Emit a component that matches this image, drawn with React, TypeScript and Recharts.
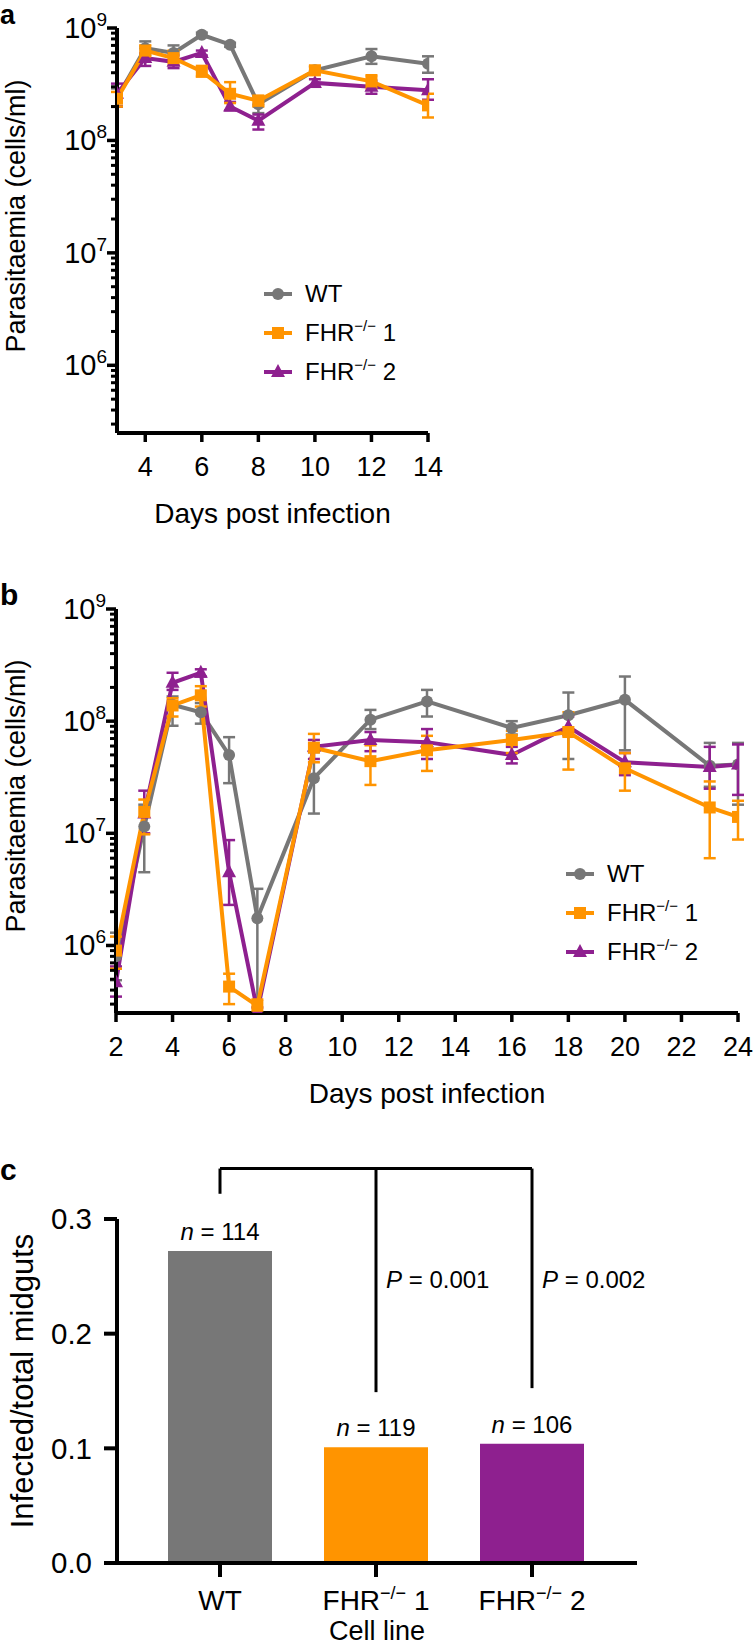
import React from 'react';
import {
  LineChart, Line, XAxis, YAxis, ErrorBar, Legend,
  BarChart, Bar, Cell, LabelList, ReferenceLine, ReferenceDot,
} from 'recharts';

const GRAY = '#777777';
const ORANGE = '#FF9400';
const PURPLE = '#8E208F';
const FONT = '"Liberation Sans", Arial, Helvetica, sans-serif';

// ---- panel a: parasitaemia, days 3-14
const daysA = [3, 4, 5, 6, 7, 8, 10, 12, 14];
const wtA = [2.4e8, 6.6e8, 6.0e8, 8.7e8, 7.1e8, 2.1e8, 4.2e8, 5.6e8, 4.8e8];
const wtALow = [2.0e8, 5.8e8, 5.2e8, 8.3e8, 6.8e8, 1.75e8, 3.9e8, 4.8e8, 4.0e8];
const wtAHigh = [2.9e8, 7.6e8, 7.0e8, 9.1e8, 7.4e8, 2.4e8, 4.5e8, 6.5e8, 5.6e8];
const fhr1A = [2.35e8, 6.3e8, 5.4e8, 4.1e8, 2.6e8, 2.25e8, 4.2e8, 3.35e8, 2.05e8];
const fhr1ALow = [2.0e8, 5.6e8, 4.7e8, 3.7e8, 2.15e8, 2.0e8, 3.9e8, 2.9e8, 1.6e8];
const fhr1AHigh = [2.7e8, 7.0e8, 6.3e8, 4.6e8, 3.3e8, 2.5e8, 4.6e8, 3.8e8, 2.6e8];
const fhr2A = [2.6e8, 5.4e8, 5.0e8, 6.0e8, 2.0e8, 1.5e8, 3.25e8, 3.0e8, 2.8e8];
const fhr2ALow = [2.0e8, 4.6e8, 4.4e8, 5.7e8, 1.85e8, 1.25e8, 3.0e8, 2.6e8, 2.3e8];
const fhr2AHigh = [3.2e8, 6.0e8, 5.7e8, 6.3e8, 2.2e8, 1.7e8, 3.5e8, 3.4e8, 3.5e8];
const dayTicksA = [4, 6, 8, 10, 12, 14];

// ---- panel b: parasitaemia, days 2-24
const daysB = [2, 3, 4, 5, 6, 7, 9, 11, 13, 16, 18, 20, 23, 24];
const wtB = [8e5, 1.15e7, 1.4e8, 1.2e8, 5.0e7, 1.75e6, 3.1e7, 1.03e8, 1.5e8, 8.7e7, 1.13e8, 1.55e8, 4.0e7, 4.1e7];
const wtBLow = [4.9e5, 4.5e6, 9.1e7, 9.5e7, 2.8e7, 2.5e5, 1.5e7, 8.5e7, 1.1e8, 7.6e7, 4.6e7, 5.5e7, 2.6e7, 1.8e7];
const wtBHigh = [1.3e6, 1.8e7, 1.66e8, 1.45e8, 7.2e7, 3.2e6, 5.3e7, 1.26e8, 1.9e8, 1.0e8, 1.8e8, 2.5e8, 6.4e7, 6.4e7];
const fhr1B = [9.0e5, 1.55e7, 1.38e8, 1.7e8, 4.3e5, 2.9e5, 5.8e7, 4.4e7, 5.5e7, 6.8e7, 8.0e7, 3.8e7, 1.7e7, 1.4e7];
const fhr1BLow = [6.2e5, 9.8e6, 1.1e8, 1.35e8, 3.0e5, 2.5e5, 4.3e7, 2.7e7, 3.6e7, 5.2e7, 3.7e7, 2.4e7, 6.0e6, 8.8e6];
const fhr1BHigh = [1.2e6, 2.0e7, 1.6e8, 2.05e8, 5.6e5, 3.3e5, 7.7e7, 6.1e7, 7.4e7, 8.2e7, 1.2e8, 5.2e7, 2.9e7, 1.95e7];
const fhr2B = [4.7e5, 1.5e7, 2.2e8, 2.7e8, 4.5e6, 2.6e5, 5.9e7, 6.8e7, 6.5e7, 5.0e7, 8.9e7, 4.3e7, 3.9e7, 4.1e7];
const fhr2BLow = [3.5e5, 1.0e7, 1.9e8, 2.5e8, 2.3e6, 2.5e5, 4.6e7, 5.4e7, 4.6e7, 4.2e7, 7.5e7, 3.3e7, 2.5e7, 2.2e7];
const fhr2BHigh = [6.5e5, 2.4e7, 2.7e8, 2.9e8, 8.7e6, 2.8e5, 6.8e7, 8.0e7, 8.5e7, 5.9e7, 1.1e8, 5.2e7, 5.9e7, 6.2e7];
const dayTicksB = [2, 4, 6, 8, 10, 12, 14, 16, 18, 20, 22, 24];

// log axis: 2.5e5 .. 1e9 with minor ticks
const logDomain = [2.5e5, 1e9];
const logTicks = [5, 6, 7, 8]
  .flatMap((e) => [1, 2, 3, 4, 5, 6, 7, 8, 9].map((m) => m * 10 ** e))
  .filter((v) => v >= logDomain[0])
  .concat([1e9]);

// ---- panel c: infected midguts
const cellLines = ['WT', 'FHR−/− 1', 'FHR−/− 2'];
const infectedRate = [0.272, 0.101, 0.104];
const nMidguts = [114, 119, 106];
const barColors = [GRAY, ORANGE, PURPLE];
const pValues = ['0.001', '0.002'];
const bracketTop = 0.344;
const bracketDrops = [0.322, 0.149, 0.1525];
const pLabelY = 0.247;

const legendItems = [
  { label: 'WT', shape: 'circle', color: GRAY },
  { label: 'FHR−/− 1', shape: 'square', color: ORANGE },
  { label: 'FHR−/− 2', shape: 'triangle', color: PURPLE },
];

type Series = { key: string; v: number[]; lo: number[]; hi: number[] };

function buildRows(days: number[], sets: Series[]) {
  return days.map((day, i) => {
    const row: Record<string, any> = { day };
    sets.forEach((s) => {
      row[s.key] = s.v[i];
      row[s.key + 'Err'] = [s.v[i] - s.lo[i], s.hi[i] - s.v[i]];
    });
    return row;
  });
}

const rowsA = buildRows(daysA, [
  { key: 'wt', v: wtA, lo: wtALow, hi: wtAHigh },
  { key: 'fhr1', v: fhr1A, lo: fhr1ALow, hi: fhr1AHigh },
  { key: 'fhr2', v: fhr2A, lo: fhr2ALow, hi: fhr2AHigh },
]);
const rowsB = buildRows(daysB, [
  { key: 'wt', v: wtB, lo: wtBLow, hi: wtBHigh },
  { key: 'fhr1', v: fhr1B, lo: fhr1BLow, hi: fhr1BHigh },
  { key: 'fhr2', v: fhr2B, lo: fhr2BLow, hi: fhr2BHigh },
]);
const rowsC = cellLines.map((line, i) => ({ line, rate: infectedRate[i], n: nMidguts[i] }));

function marker(shape: string, cx: number, cy: number, color: string, key?: any) {
  if (shape === 'circle') return <circle key={key} cx={cx} cy={cy} r={6} fill={color} />;
  if (shape === 'square') return <rect key={key} x={cx - 6} y={cy - 6} width={12} height={12} fill={color} />;
  return <path key={key} d={`M${cx},${cy - 8} L${cx + 7},${cy + 5} L${cx - 7},${cy + 5} Z`} fill={color} />;
}

const dotFor = (shape: string, color: string) => (p: any) => {
  if (p.cx == null || p.cy == null) return <g key={p.index} />;
  return marker(shape, p.cx, p.cy, color, p.index);
};

const LogTick = (props: any) => {
  const { x, y, payload } = props;
  const v = payload.value;
  const exp = Math.round(Math.log10(v));
  const major = Math.abs(v / 10 ** exp - 1) < 1e-9;
  return (
    <g>
      <line x1={x} x2={x - (major ? 10 : 6)} y1={y} y2={y} stroke="#000" strokeWidth={major ? 3.5 : 3} />
      {major && (
        <text x={x - 10} y={y + 10} textAnchor="end" fontSize={29} fontFamily={FONT} fill="#000">
          10<tspan dy={-12} fontSize={19}>{exp}</tspan>
        </text>
      )}
    </g>
  );
};

// text with a superscript "−/−"
function supParts(text: string) {
  const parts = text.split('−/−');
  return parts.length < 2 ? null : parts;
}

const CellTick = (props: any) => {
  const { x, y, payload } = props;
  const parts = supParts(payload.value);
  return (
    <text x={x} y={y} dy="0.71em" textAnchor="middle" fontSize={28} fontFamily={FONT} fill="#000">
      {parts ? (
        <>
          {parts[0]}
          <tspan dy={-11} fontSize={18}>−/−</tspan>
          <tspan dy={11}>{parts[1]}</tspan>
        </>
      ) : payload.value}
    </text>
  );
};

const SeriesLegend = () => (
  <div style={{ fontFamily: FONT, fontSize: 24, color: '#000' }}>
    {legendItems.map((it) => {
      const parts = supParts(it.label);
      return (
        <div key={it.label} style={{ display: 'flex', alignItems: 'center', height: 39 }}>
          <svg width={30} height={20}>
            <line x1={1} x2={29} y1={10} y2={10} stroke={it.color} strokeWidth={4} />
            {marker(it.shape, 15, 10, it.color)}
          </svg>
          <span style={{ marginLeft: 12, whiteSpace: 'nowrap' }}>
            {parts ? (
              <>
                {parts[0]}
                <span style={{ fontSize: 15, position: 'relative', top: -10 }}>−/−</span>
                {parts[1]}
              </>
            ) : it.label}
          </span>
        </div>
      );
    })}
  </div>
);

const NLabel = (props: any) => {
  const { x, y, width, value } = props;
  return (
    <text x={x + width / 2} y={y - 11} textAnchor="middle" fontSize={24} fontFamily={FONT} fill="#000">
      <tspan fontStyle="italic">n</tspan> = {value}
    </text>
  );
};

const pLabel = (value: string) => (props: any) => {
  const vb = props.viewBox;
  return (
    <text x={vb.x + 11} y={vb.y + 9} fontSize={24} fontFamily={FONT} fill="#000">
      <tspan fontStyle="italic">P</tspan> = {value}
    </text>
  );
};

// rotated axis title, centred at (cx, cy) in chart coordinates
const yTitle = (text: string, size: number, cx: number, cy: number) => () => (
  <text
    x={cx}
    y={cy}
    transform={`rotate(-90, ${cx}, ${cy})`}
    textAnchor="middle"
    dominantBaseline="central"
    fontSize={size}
    fontFamily={FONT}
    fill="#000"
  >
    {text}
  </text>
);

const axisLine = { stroke: '#000', strokeWidth: 4 };
const tickLine = { stroke: '#000', strokeWidth: 3.5 };
const tickText = { fill: '#000', fontSize: 27, fontFamily: FONT };
const titleStyle = { fill: '#000', fontSize: 28, fontFamily: FONT };

function parasiteSeries() {
  const defs = [
    { key: 'wt', color: GRAY, shape: 'circle' },
    { key: 'fhr2', color: PURPLE, shape: 'triangle' },
    { key: 'fhr1', color: ORANGE, shape: 'square' },
  ];
  return defs.map((d) => (
    <Line
      key={d.key}
      type="linear"
      dataKey={d.key}
      stroke={d.color}
      strokeWidth={4}
      dot={dotFor(d.shape, d.color)}
      activeDot={false}
      isAnimationActive={false}
    >
      <ErrorBar dataKey={d.key + 'Err'} direction="y" width={6} strokeWidth={2.5} stroke={d.color} isAnimationActive={false} />
    </Line>
  ));
}

function yLogAxis(width: number, titleCy: number) {
  return (
    <YAxis
      type="number"
      scale="log"
      domain={logDomain}
      allowDataOverflow
      ticks={logTicks}
      interval={0}
      width={width}
      tickSize={0}
      tickMargin={0}
      tickLine={false}
      axisLine={axisLine}
      tick={<LogTick />}
      label={{ content: yTitle('Parasitaemia (cells/ml)', 27, 16, titleCy) }}
    />
  );
}

export default function App() {
  return (
    <div style={{ position: 'absolute', left: 0, top: 0, width: 754, height: 1645, background: '#fff' }}>
      {/* panel a */}
      <div style={{ position: 'absolute', left: 0, top: 0 }}>
        <LineChart width={754} height={545} data={rowsA} margin={{ top: 28, right: 326, bottom: 52, left: 0 }}>
          <XAxis
            dataKey="day"
            type="number"
            domain={[3, 14]}
            allowDataOverflow
            ticks={dayTicksA}
            interval={0}
            height={60}
            tickSize={9}
            tickMargin={15}
            axisLine={axisLine}
            tickLine={tickLine}
            tick={tickText}
            label={{ value: 'Days post infection', position: 'bottom', offset: 10, style: titleStyle }}
          />
          {yLogAxis(117, 216)}
          {parasiteSeries()}
          <Legend
            layout="vertical"
            align="center"
            verticalAlign="middle"
            content={<SeriesLegend />}
            wrapperStyle={{ left: 263, top: 274, width: 200, height: 120 }}
          />
        </LineChart>
      </div>

      {/* panel b */}
      <div style={{ position: 'absolute', left: 0, top: 560 }}>
        <LineChart width={754} height={565} data={rowsB} margin={{ top: 49, right: 16, bottom: 52, left: 0 }}>
          <XAxis
            dataKey="day"
            type="number"
            domain={[2, 24]}
            allowDataOverflow
            ticks={dayTicksB}
            interval={0}
            height={60}
            tickSize={9}
            tickMargin={15}
            axisLine={axisLine}
            tickLine={tickLine}
            tick={tickText}
            label={{ value: 'Days post infection', position: 'bottom', offset: 10, style: titleStyle }}
          />
          {yLogAxis(116, 236)}
          {parasiteSeries()}
          <Legend
            layout="vertical"
            align="center"
            verticalAlign="middle"
            content={<SeriesLegend />}
            wrapperStyle={{ left: 565, top: 294, width: 200, height: 120 }}
          />
        </LineChart>
      </div>

      {/* panel c */}
      <div style={{ position: 'absolute', left: 0, top: 1130 }}>
        <BarChart width={754} height={515} data={rowsC} margin={{ top: 89, right: 117, bottom: 32, left: 0 }}>
          <XAxis
            dataKey="line"
            type="category"
            padding={{ left: 25, right: 27 }}
            height={50}
            tickSize={14}
            tickMargin={13}
            axisLine={axisLine}
            tickLine={{ stroke: '#000', strokeWidth: 4 }}
            tick={<CellTick />}
            interval={0}
            label={{ value: 'Cell line', position: 'bottom', offset: 8, style: { ...titleStyle, fontSize: 27 } }}
          />
          <YAxis
            type="number"
            domain={[0, 0.3]}
            ticks={[0, 0.1, 0.2, 0.3]}
            interval={0}
            width={117}
            tickSize={13}
            tickMargin={12}
            axisLine={axisLine}
            tickLine={{ stroke: '#000', strokeWidth: 4 }}
            tick={{ ...tickText, fontSize: 29.5 }}
            tickFormatter={(v: number) => v.toFixed(1)}
            label={{ content: yTitle('Infected/total midguts', 31, 22, 251) }}
          />
          <Bar dataKey="rate" barSize={104} isAnimationActive={false}>
            {rowsC.map((r, i) => (
              <Cell key={r.line} fill={barColors[i]} />
            ))}
            <LabelList dataKey="n" content={NLabel} />
          </Bar>
          <ReferenceLine
            segment={[{ x: cellLines[0], y: bracketTop }, { x: cellLines[2], y: bracketTop }]}
            stroke="#000"
            strokeWidth={3}
            ifOverflow="visible"
          />
          {cellLines.map((c, i) => (
            <ReferenceLine
              key={c}
              segment={[{ x: c, y: bracketTop }, { x: c, y: bracketDrops[i] }]}
              stroke="#000"
              strokeWidth={3}
              ifOverflow="visible"
            />
          ))}
          {pValues.map((p, i) => (
            <ReferenceDot
              key={p}
              x={cellLines[i + 1]}
              y={pLabelY}
              r={1}
              fill="none"
              stroke="none"
              ifOverflow="visible"
              label={{ content: pLabel(p) }}
            />
          ))}
        </BarChart>
      </div>

      {/* panel letters */}
      <svg
        width={754}
        height={1645}
        style={{ position: 'absolute', left: 0, top: 0, pointerEvents: 'none' }}
      >
        <text x={0} y={24} fontSize={27} fontWeight="bold" fontFamily={FONT}>a</text>
        <text x={0} y={605} fontSize={30} fontWeight="bold" fontFamily={FONT}>b</text>
        <text x={0} y={1180} fontSize={30} fontWeight="bold" fontFamily={FONT}>c</text>
      </svg>
    </div>
  );
}
